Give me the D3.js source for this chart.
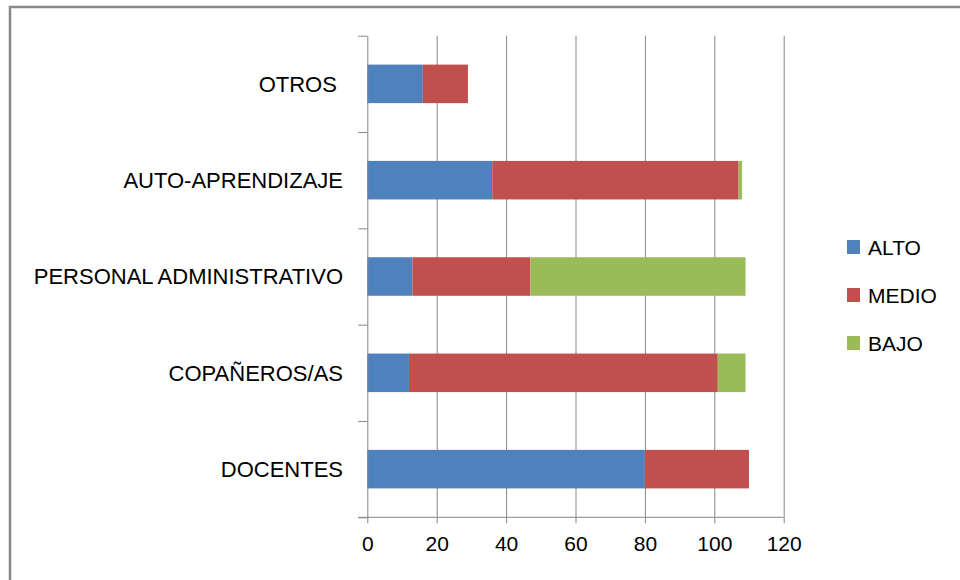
<!DOCTYPE html>
<html>
  <head>
    <meta charset="utf-8">
    <title>Fuentes de aprendizaje</title>
    <style>
      body { margin: 0; background: #fff; }
      text { font-family: "Liberation Sans", Arial, sans-serif; fill: #000; }
      .grid line { stroke: #878787; stroke-width: 1; }
      .grid path { display: none; }
      .axis path, .axis line { stroke: #878787; stroke-width: 1; }
    </style>
  </head>
  <body>
    <script src="https://d3js.org/d3.v7.min.js"></script>
    <script>
      // data, top to bottom as shown
      var categories = ["OTROS ", "AUTO-APRENDIZAJE", "PERSONAL ADMINISTRATIVO", "COPAÑEROS/AS", "DOCENTES"];
      var series = ["ALTO", "MEDIO", "BAJO"];
      var alto  = [16, 36, 13, 12, 80];
      var medio = [13, 71, 34, 89, 30];
      var bajo  = [0, 1, 62, 8, 0];
      var xTicks = [0, 20, 40, 60, 80, 100, 120];
      var colors = ["#4F81BD", "#C0504D", "#9BBB59"];

      var W = 960, H = 580;
      var plot = {left: 367.3, right: 783.7, top: 35.7, bottom: 517.3};

      var svg = d3.select("body").append("svg")
          .attr("width", W)
          .attr("height", H);

      // outer frame
      svg.append("rect")
          .attr("x", 10).attr("y", 7)
          .attr("width", 1000).attr("height", 700)
          .attr("fill", "none")
          .attr("stroke", "#898989")
          .attr("stroke-width", 2.5);

      var x = d3.scaleLinear().domain([0, 120]).range([plot.left, plot.right]);
      var y = d3.scaleBand().domain(categories)
          .range([plot.top, plot.bottom])
          .paddingInner(0.6).paddingOuter(0.3);

      // vertical gridlines
      svg.append("g")
          .attr("class", "grid")
          .attr("transform", "translate(0," + plot.bottom + ")")
          .call(d3.axisBottom(x).tickValues(xTicks.slice(1))
                .tickSize(-(plot.bottom - plot.top)).tickFormat(""));

      // stacked bars
      var rows = categories.map(function(c, i) {
        return {cat: c, ALTO: alto[i], MEDIO: medio[i], BAJO: bajo[i]};
      });
      var stack = d3.stack().keys(series)(rows);

      svg.append("g").selectAll("g")
          .data(stack)
          .enter().append("g")
          .attr("fill", function(d, i) { return colors[i]; })
          .selectAll("rect")
          .data(function(d) { return d; })
          .enter().append("rect")
          .attr("x", function(d) { return x(d[0]); })
          .attr("y", function(d) { return y(d.data.cat); })
          .attr("width", function(d) { return x(d[1]) - x(d[0]); })
          .attr("height", y.bandwidth());

      // left axis: line with ticks at the category boundaries
      var yEdge = d3.scaleLinear().domain([0, categories.length]).range([plot.top, plot.bottom]);
      svg.append("g")
          .attr("class", "axis")
          .attr("transform", "translate(" + plot.left + ",0)")
          .call(d3.axisLeft(yEdge).ticks(categories.length).tickSize(9).tickSizeOuter(0).tickFormat(""));

      // category labels
      svg.append("g").selectAll("text")
          .data(categories)
          .enter().append("text")
          .attr("x", 343)
          .attr("y", function(d) { return y(d) + y.bandwidth() / 2; })
          .attr("dy", "0.36em")
          .attr("text-anchor", "end")
          .style("white-space", "pre")
          .style("font-size", "22px")
          .text(function(d) { return d; });

      // bottom axis
      var xAxis = svg.append("g")
          .attr("class", "axis")
          .attr("transform", "translate(0," + plot.bottom + ")")
          .call(d3.axisBottom(x).tickValues(xTicks).tickSize(6).tickPadding(13).tickSizeOuter(0));
      xAxis.select(".domain").remove();
      xAxis.append("line")
          .attr("x1", plot.left - 9).attr("x2", plot.right)
          .attr("stroke", "#878787");
      xAxis.selectAll("text")
          .style("font-size", "21px")
          .style("font-family", "'Liberation Sans', Arial, sans-serif")
          .attr("fill", "#000");

      // legend
      var legend = svg.append("g").selectAll("g")
          .data(series)
          .enter().append("g")
          .attr("transform", function(d, i) { return "translate(847," + (247 + i * 48) + ")"; });
      legend.append("rect")
          .attr("x", 0).attr("y", -7)
          .attr("width", 13).attr("height", 14)
          .attr("fill", function(d, i) { return colors[i]; });
      legend.append("text")
          .attr("x", 21)
          .attr("dy", "0.36em")
          .style("font-size", "21px")
          .text(function(d) { return d; });
    </script>
  </body>
</html>
